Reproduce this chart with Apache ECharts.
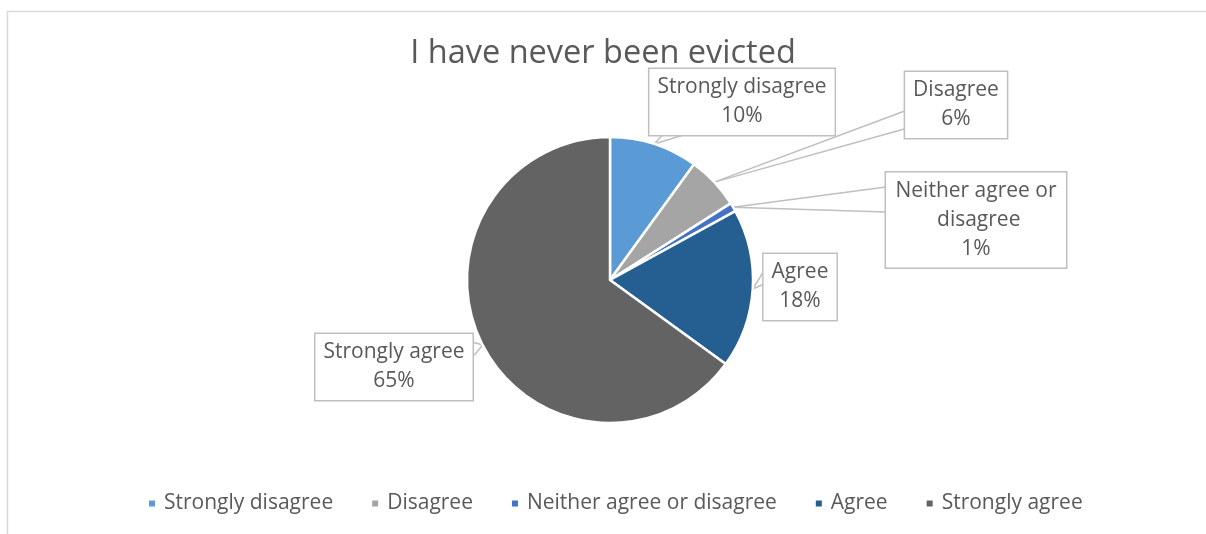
<!DOCTYPE html>
<html>
<head>
<meta charset="utf-8">
<script src="https://cdn.jsdelivr.net/npm/echarts@6/dist/echarts.min.js"></script>
<style>
  html, body { margin: 0; padding: 0; background: #fff; }
  #chart { width: 1206px; height: 534px; }
</style>
</head>
<body>
<div id="chart"></div>
<script>
// Survey responses to "I have never been evicted"
const categories = ['Strongly disagree', 'Disagree', 'Neither agree or disagree', 'Agree', 'Strongly agree'];
const shares = [10, 6, 1, 18, 65];
const colors = ['#5b9bd5', '#a5a5a5', '#4472c4', '#255e91', '#636363'];

// Callout layout (pixels): box centres, and the two base points of each callout's pointer wedge
const calloutCentres = [[742, 102], [956, 105], [976, 220], [800, 287], [394, 367]];
const wedgeBaseA = [[662, 135], [906, 110], [886, 187], [763, 272], [474, 342]];
const wedgeBaseB = [[682, 135], [906, 128], [886, 212], [763, 284], [474, 356]];
const wrapWidths = [null, null, 164, null, null];

const FONT = '"Open Sans", Lato, sans-serif';
const TEXT = '#595959';
const GUIDE = '#bfbfbf';
const CENTER = [610, 280];
const RADIUS = 143;

const chart = echarts.init(document.getElementById('chart'), null, { renderer: 'canvas' });

const mainData = categories.map((name, i) => {
  const item = { name, value: shares[i], itemStyle: { color: colors[i] } };
  if (wrapWidths[i]) {
    item.label = { width: wrapWidths[i], overflow: 'break' };
  }
  return item;
});

// A transparent copy of the pie whose tiny hidden labels sit on a wedge base point,
// so its label guide line draws one side of the callout pointer.
function wedgeSeries(points) {
  return {
    type: 'pie',
    center: CENTER,
    radius: RADIUS,
    startAngle: 90,
    clockwise: true,
    silent: true,
    z: 1,
    legendHoverLink: false,
    itemStyle: { color: 'rgba(0,0,0,0)', borderWidth: 0 },
    emphasis: { disabled: true },
    label: {
      show: true,
      formatter: ' ',
      fontSize: 1,
      lineHeight: 1,
      padding: 0,
      color: 'rgba(0,0,0,0)'
    },
    labelLine: {
      show: true,
      length: 5,
      length2: 0,
      lineStyle: { color: GUIDE, width: 1.5 }
    },
    labelLayout: params => {
      const p = points[params.dataIndex];
      return { x: p[0], y: p[1], align: 'center', verticalAlign: 'middle' };
    },
    data: categories.map((name, i) => ({ name, value: shares[i] }))
  };
}

chart.setOption({
  animation: false,
  backgroundColor: '#fff',
  title: {
    text: 'I have never been evicted',
    left: 'center',
    top: 32,
    textStyle: { fontFamily: FONT, fontSize: 32.5, fontWeight: 'normal', color: TEXT }
  },
  legend: {
    top: 488,
    left: 142,
    icon: 'rect',
    itemWidth: 8,
    itemHeight: 8,
    itemGap: 37,
    textStyle: { fontFamily: FONT, fontSize: 21, color: TEXT, padding: [0, 0, 0, 3] },
    data: categories.map((name, i) => ({ name, itemStyle: { color: colors[i] } }))
  },
  graphic: [{
    type: 'rect',
    shape: { x: 7.5, y: 11.5, width: 1240, height: 560 },
    style: { fill: 'none', stroke: '#d9d9d9', lineWidth: 1.5 },
    silent: true
  }],
  series: [{
    type: 'pie',
    name: 'I have never been evicted',
    center: CENTER,
    radius: RADIUS,
    startAngle: 90,
    clockwise: true,
    z: 3,
    itemStyle: { borderColor: '#fff', borderWidth: 2.5 },
    label: {
      show: true,
      formatter: p => p.name + '\n' + p.percent + '%',
      fontFamily: FONT,
      fontSize: 21,
      lineHeight: 29,
      color: TEXT,
      align: 'center',
      backgroundColor: '#fff',
      borderColor: GUIDE,
      borderWidth: 1.5,
      padding: [6, 8, 2, 8]
    },
    labelLine: { show: false },
    labelLayout: params => {
      const c = calloutCentres[params.dataIndex];
      return { x: c[0], y: c[1], align: 'center', verticalAlign: 'middle' };
    },
    data: mainData
  }, wedgeSeries(wedgeBaseA), wedgeSeries(wedgeBaseB)]
});
</script>
</body>
</html>
